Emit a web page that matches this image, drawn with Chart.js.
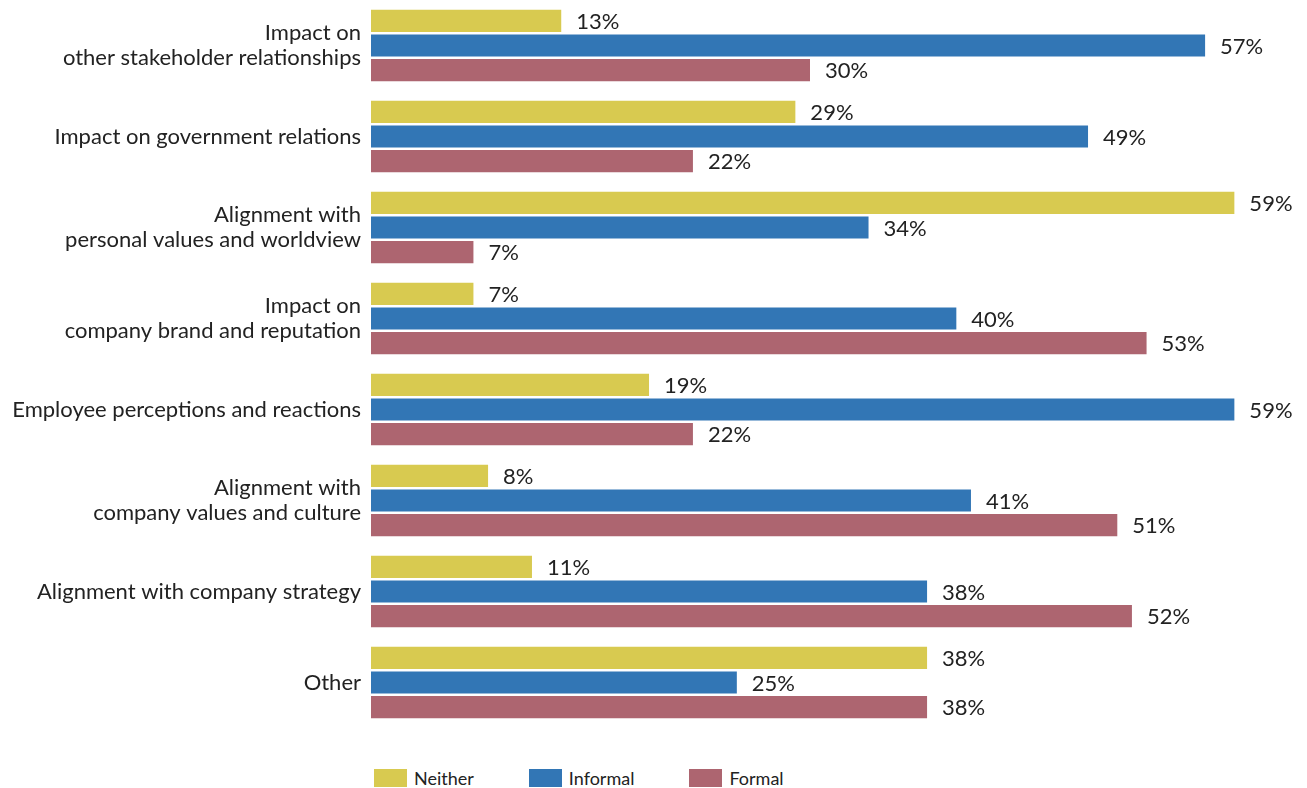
<!DOCTYPE html>
<html>
<head>
<meta charset="utf-8">
<script src="https://cdn.jsdelivr.net/npm/chart.js@4.4.0/dist/chart.umd.min.js"></script>
<style>
  html, body { margin: 0; padding: 0; background: #fff; }
  #wrap { position: relative; width: 1307px; height: 788px; }
  #chart-box { position: absolute; left: 0; top: 0; width: 1307px; height: 750px; }
  #legend { position: absolute; left: 374px; top: 767px; display: flex; font-family: Lato, sans-serif; font-size: 18px; color: #222; }
  #legend .item { display: flex; align-items: center; margin-right: 55px; }
  #legend .swatch { width: 33px; height: 18px; margin-right: 7px; }
</style>
</head>
<body>
<div id="wrap">
  <div id="chart-box"><canvas id="factorsChart"></canvas></div>
  <div id="legend"></div>
</div>
<script>
const categories = [
    ['Impact on', 'other stakeholder relationships'],
    'Impact on government relations',
    ['Alignment with', 'personal values and worldview'],
    ['Impact on', 'company brand and reputation'],
    'Employee perceptions and reactions',
    ['Alignment with', 'company values and culture'],
    'Alignment with company strategy',
    'Other'
];
const seriesNames = ['Neither', 'Informal', 'Formal'];
const neither = [13, 29, 59, 7, 19, 8, 11, 38];
const informal = [57, 49, 34, 40, 59, 41, 38, 25];
const formal = [30, 22, 7, 53, 22, 51, 52, 38];
const colors = ['#d8ca50', '#3276b5', '#ad6570'];

const FONT = 'Lato, sans-serif';

// value text drawn just past the end of each bar
const barLabels = {
    id: 'barLabels',
    afterDatasetsDraw(chart) {
        const { ctx } = chart;
        ctx.save();
        ctx.font = '22px ' + FONT;
        ctx.fillStyle = '#222';
        ctx.textAlign = 'left';
        ctx.textBaseline = 'middle';
        chart.data.datasets.forEach((ds, i) => {
            chart.getDatasetMeta(i).data.forEach((bar, j) => {
                ctx.fillText(ds.data[j] + '%', bar.x + 15, bar.y + 1);
            });
        });
        ctx.restore();
    }
};

const chart = new Chart(document.getElementById('factorsChart').getContext('2d'), {
    type: 'bar',
    data: {
        labels: categories,
        datasets: [
            { label: seriesNames[0], data: neither, backgroundColor: colors[0] },
            { label: seriesNames[1], data: informal, backgroundColor: colors[1] },
            { label: seriesNames[2], data: formal, backgroundColor: colors[2] }
        ]
    },
    options: {
        indexAxis: 'y',
        responsive: true,
        maintainAspectRatio: false,
        animation: false,
        layout: { padding: { top: 0, right: 58, bottom: 22, left: 0 } },
        datasets: { bar: { categoryPercentage: 0.81, barPercentage: 0.9 } },
        plugins: {
            legend: { display: false },
            tooltip: { enabled: false }
        },
        scales: {
            x: { min: 0, max: 60, display: false },
            y: {
                grid: { display: false, drawTicks: false },
                border: { display: false },
                afterFit: (axis) => {
                    axis.width = 371;
                    // keep the plot flush with the top/bottom despite two-line labels
                    axis.paddingTop = 0;
                    axis.paddingBottom = 0;
                },
                ticks: {
                    padding: 10,
                    color: '#222',
                    font: { family: FONT, size: 22, lineHeight: 1.15 }
                }
            }
        }
    },
    plugins: [barLabels]
});

const legend = document.getElementById('legend');
seriesNames.forEach((name, i) => {
    const item = document.createElement('div');
    item.className = 'item';
    item.innerHTML = `<span class="swatch" style="background:${colors[i]}"></span><span>${name}</span>`;
    legend.appendChild(item);
});
</script>
</body>
</html>
